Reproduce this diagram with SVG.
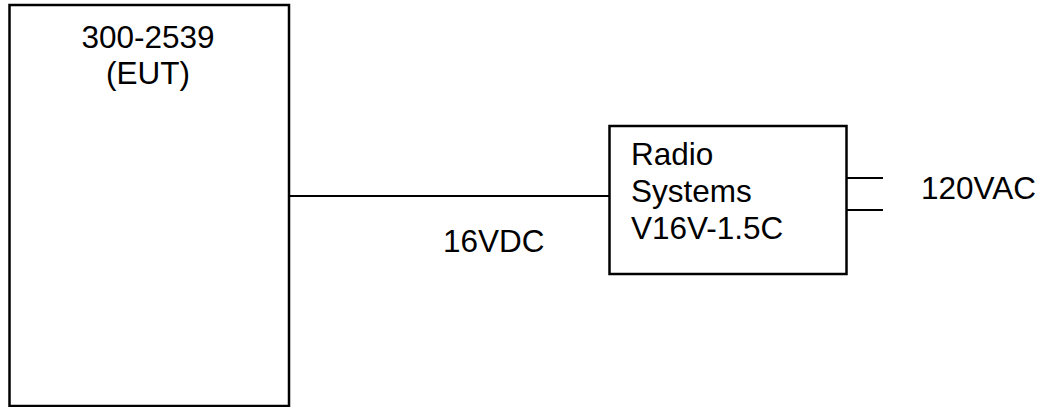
<svg xmlns="http://www.w3.org/2000/svg" width="1045" height="407" viewBox="0 0 1045 407">
  <style>
    .box { fill: #ffffff; stroke: #000000; stroke-width: 2.5; }
    .wire { stroke: #000000; stroke-width: 2.2; fill: none; }
    .lbl { font-family: "Liberation Sans", Arial, sans-serif; font-size: 31.5px; fill: #000000; }
  </style>
  <rect width="1045" height="407" fill="#ffffff"/>

  <!-- equipment under test -->
  <g id="eut">
    <rect class="box" x="9.5" y="5" width="279.5" height="401"/>
    <text class="lbl" x="148" y="48" text-anchor="middle">300-2539</text>
    <text class="lbl" x="148" y="84" text-anchor="middle">(EUT)</text>
  </g>

  <!-- power supply -->
  <g id="psu">
    <rect class="box" x="609.5" y="126" width="237" height="148"/>
    <text class="lbl" x="631" y="165">Radio</text>
    <text class="lbl" x="631" y="202">Systems</text>
    <text class="lbl" x="631" y="239">V16V-1.5C</text>
  </g>

  <!-- cabling -->
  <g id="connectors">
    <line class="wire" x1="289" y1="196" x2="609" y2="196"/>
    <line class="wire" x1="847" y1="178" x2="883" y2="178"/>
    <line class="wire" x1="847" y1="210" x2="883" y2="210"/>
  </g>

  <g id="labels">
    <text class="lbl" x="443" y="252">16VDC</text>
    <text class="lbl" x="921" y="199">120VAC</text>
  </g>
</svg>
